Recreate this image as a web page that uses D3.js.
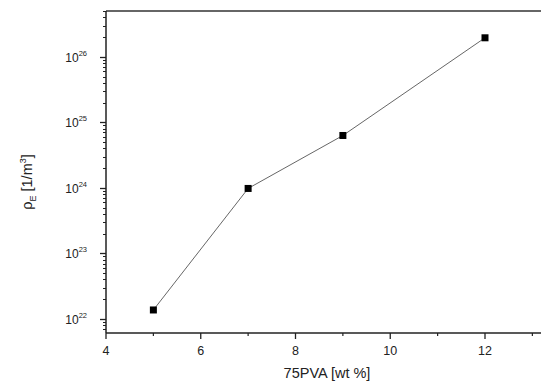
<!DOCTYPE html>
<html><head><meta charset="utf-8">
<script src="https://cdn.jsdelivr.net/npm/d3@7/dist/d3.min.js"></script>
<style>body{margin:0;background:#fff}svg{display:block}text{font-family:"Liberation Sans",Arial,sans-serif;fill:#222}</style>
</head><body><svg id="c" width="541" height="385"></svg>
<script>
const xValues = [5, 7, 9, 12];
const yValues = [1.37e22, 9.8e23, 6.3e24, 1.95e26];
const xTicks = [4, 6, 8, 10, 12];
const xMinorTicks = [5, 7, 9, 11, 13];
const yTickExps = [22, 23, 24, 25, 26];
const xLabel = "75PVA [wt %]";

(function () {
const svg = d3.select("#c");
const mLeft = 106, mTop = 11, mBottom = 333;
const x = d3.scaleLinear().domain([4, 12]).range([mLeft, 485]);
const y = d3.scaleLog().domain([6.1e21, 5e26]).range([mBottom, mTop]);

const yMinor = [];
for (let e = 21; e <= 26; e++) for (let m = 2; m <= 9; m++) { const v = m * Math.pow(10, e); if (v >= 6.1e21 && v <= 5e26) yMinor.push(v); }
const g = svg.append("g");
g.selectAll(".ym").data(yMinor).join("line").attr("x1", mLeft - 3).attr("x2", mLeft).attr("y1", d => Math.round(y(d)) + 0.5).attr("y2", d => Math.round(y(d)) + 0.5).attr("stroke", "#222").attr("stroke-width", 1);
g.selectAll(".yM").data(yTickExps).join("line").attr("x1", mLeft - 6).attr("x2", mLeft).attr("y1", d => Math.round(y(Math.pow(10, d))) + 0.5).attr("y2", d => Math.round(y(Math.pow(10, d))) + 0.5).attr("stroke", "#222").attr("stroke-width", 1.3);
g.selectAll(".xm").data(xMinorTicks).join("line").attr("y1", mBottom).attr("y2", mBottom + 3).attr("x1", d => x(d)).attr("x2", d => x(d)).attr("stroke", "#222").attr("stroke-width", 1.2);
g.selectAll(".xM").data(xTicks).join("line").attr("y1", mBottom).attr("y2", mBottom + 6).attr("x1", d => x(d)).attr("x2", d => x(d)).attr("stroke", "#222").attr("stroke-width", 1.3);

g.append("line").attr("x1", mLeft).attr("x2", 541).attr("y1", mTop).attr("y2", mTop).attr("stroke", "#333").attr("stroke-width", 1.5);
g.append("line").attr("x1", mLeft).attr("x2", 541).attr("y1", mBottom).attr("y2", mBottom).attr("stroke", "#222").attr("stroke-width", 1.5);
g.append("line").attr("x1", mLeft).attr("x2", mLeft).attr("y1", mTop).attr("y2", mBottom).attr("stroke", "#222").attr("stroke-width", 1.5);

const yl = svg.selectAll(".ytl").data(yTickExps).join("text").attr("x", 87).attr("y", d => y(Math.pow(10, d)) + 5).attr("text-anchor", "end").attr("font-size", 12);
yl.append("tspan").text("10");
yl.append("tspan").attr("dy", -6).attr("font-size", 7.5).text(d => d);

svg.selectAll(".xtl").data(xTicks).join("text").attr("x", d => x(d)).attr("y", 355).attr("text-anchor", "middle").attr("font-size", 12.5).text(d => d);

svg.append("text").attr("x", 327).attr("y", 378).attr("text-anchor", "middle").attr("font-size", 14.5).text(xLabel);
const yt = svg.append("text").attr("transform", "translate(32,182) rotate(-90)").attr("text-anchor", "middle").attr("font-size", 14.5);
yt.append("tspan").text("ρ");
yt.append("tspan").attr("dy", 4).attr("font-size", 9).text("E");
yt.append("tspan").attr("dy", -4).text(" [1/m");
yt.append("tspan").attr("dy", -6).attr("font-size", 9).text("3");
yt.append("tspan").attr("dy", 6).text("]");

const pts = xValues.map((v, i) => [v, yValues[i]]);
svg.append("path").datum(pts).attr("d", d3.line().x(d => x(d[0])).y(d => y(d[1]))).attr("fill", "none").attr("stroke", "#555").attr("stroke-width", 0.9);
svg.selectAll(".pt").data(pts).join("rect").attr("x", d => x(d[0]) - 3.5).attr("y", d => y(d[1]) - 3.5).attr("width", 7).attr("height", 7).attr("fill", "#000");
})();
</script></body></html>
